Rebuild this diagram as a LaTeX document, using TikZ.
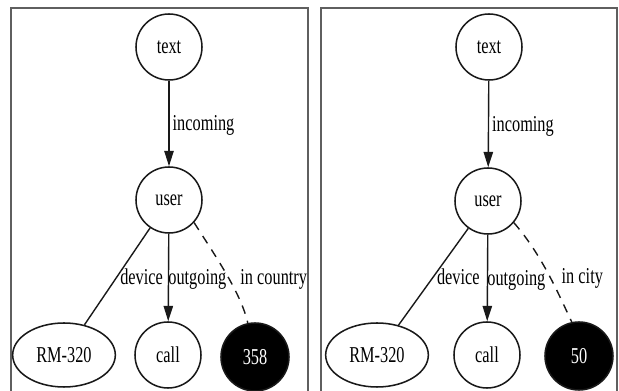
\documentclass[tikz,border=0pt]{standalone}
\usepackage{fontspec}
\setmainfont{Liberation Serif}
\usetikzlibrary{arrows.meta,shapes.geometric}
\definecolor{ink}{RGB}{25,25,25}
\definecolor{panelgray}{RGB}{95,95,95}
% condensed lettering used for all labels
\newcommand{\narrowtxt}[1]{\scalebox{0.72}[1]{#1}}

\begin{document}
\begin{tikzpicture}[x=0.75pt,y=-0.75pt,
  every node/.style={font=\fontsize{17pt}{18pt}\selectfont},
  vertex/.style={circle,draw=ink,line width=1.15pt,minimum size=49.5pt,inner sep=0pt},
  valuevertex/.style={vertex,fill=black,text=white,minimum size=51pt},
  devvertex/.style={ellipse,draw=ink,line width=1.15pt,minimum width=77pt,minimum height=48pt,inner sep=0pt},
  rel/.style={draw=ink,line width=1.05pt},
  arc/.style={rel,-{Triangle[length=11.5pt,width=7pt]}},
  weak/.style={rel,dash pattern=on 6.5pt off 5.5pt},
  lbl/.style={inner sep=0pt},
  panel/.style={draw=panelgray,line width=1.3pt}]
\useasboundingbox (0,0) rectangle (619,391);

% panel frames (open at the bottom)
\draw[panel] (11,393) -- (11,8) -- (308,8) -- (308,393);
\draw[panel] (321,393) -- (321,8) -- (617,8) -- (617,393);

% ---- left graph ----
\node[vertex] (t1) at (169,47) {\narrowtxt{text}};
\node[vertex] (u1) at (169,200) {\narrowtxt{user}};
\node[devvertex] (r1) at (64,355) {\narrowtxt{RM-320}};
\node[vertex] (c1) at (168,355) {\narrowtxt{call}};
\node[valuevertex] (n1) at (255,357) {\narrowtxt{358}};

\draw[arc] (t1) -- node[lbl,pos=0.586,anchor=base west,xshift=2.25pt] {\narrowtxt{incoming}} (u1);
\draw[rel] (u1) -- node[lbl,pos=0.586,anchor=base west,xshift=6pt] {\narrowtxt{device}} (r1);
\draw[arc] (u1) -- node[lbl,pos=0.584,anchor=base west,xshift=-0.6pt] {\narrowtxt{outgoing}} (c1);
\draw[weak] (u1.-42) .. controls (216,257) and (241,293) ..
  node[lbl,pos=0.6,anchor=base west,xshift=5.6pt] {\narrowtxt{in country}} (n1.102);

% ---- right graph ----
\node[vertex] (t2) at (489,47) {\narrowtxt{text}};
\node[vertex] (u2) at (488,201) {\narrowtxt{user}};
\node[devvertex] (r2) at (377,355) {\narrowtxt{RM-320}};
\node[vertex] (c2) at (487,355) {\narrowtxt{call}};
\node[valuevertex] (n2) at (579,356) {\narrowtxt{50}};

\draw[arc] (t2) -- node[lbl,pos=0.586,anchor=base west,xshift=2.25pt] {\narrowtxt{incoming}} (u2);
\draw[rel] (u2) -- node[lbl,pos=0.584,anchor=base west,xshift=6.6pt] {\narrowtxt{device}} (r2);
\draw[arc] (u2) -- node[lbl,pos=0.584,anchor=base west,xshift=-0.6pt] {\narrowtxt{outgoing}} (c2);
\draw[weak] (u2.-40) .. controls (542,255) and (558,293) ..
  node[lbl,pos=0.6,anchor=base west,xshift=5.6pt] {\narrowtxt{in city}} (n2.102);
\end{tikzpicture}
\end{document}
